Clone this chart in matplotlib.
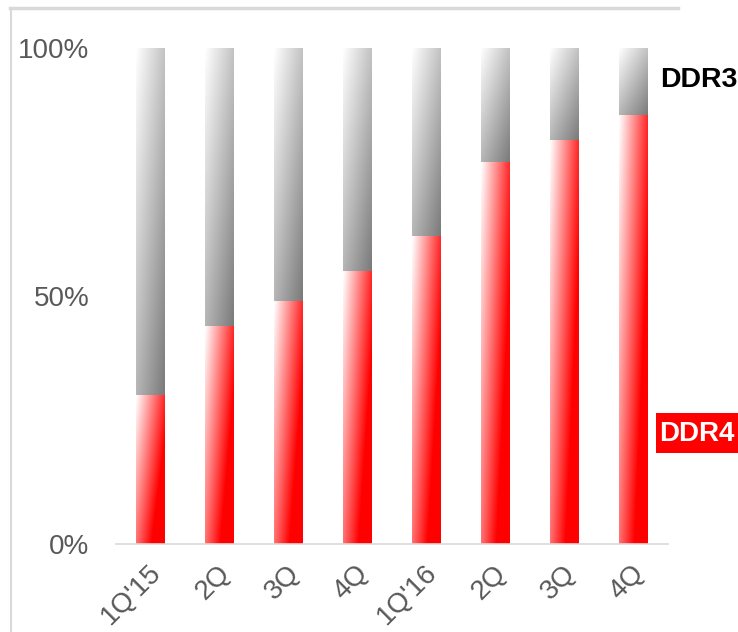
import numpy as np
import matplotlib
matplotlib.use('Agg')
import matplotlib.pyplot as plt
import matplotlib.transforms as mtransforms
from matplotlib.colors import LinearSegmentedColormap
from matplotlib.lines import Line2D
from matplotlib.patches import Rectangle

plt.rcParams['font.family'] = ['Liberation Sans', 'DejaVu Sans']

# data (share of DRAM shipments, %)
quarters = ["1Q'15", "2Q", "3Q", "4Q", "1Q'16", "2Q", "3Q", "4Q"]
ddr4 = [30, 44, 49, 55, 62, 77, 81.5, 86.5]
ddr3 = [100 - v for v in ddr4]

gray_txt = '#595959'
line_col = '#d9d9d9'

red_cmap = LinearSegmentedColormap.from_list('r', [(0, '#ffffff'), (0.72, '#ff0000'), (1, '#ff0000')])
gray_cmap = LinearSegmentedColormap.from_list('g', [(0, '#ffffff'), (1, '#7a7a7a')])


def grad_fill(ax, bar, cmap, wu, wv):
    x, y = bar.get_x(), bar.get_y()
    w, h = bar.get_width(), bar.get_height()
    U, V = np.meshgrid(np.linspace(0, 1, 64), np.linspace(0, 1, 256))
    t = wu * U + wv * V
    im = ax.imshow(t, cmap=cmap, vmin=0, vmax=1, extent=(x, x + w, y, y + h),
                   aspect='auto', origin='upper', zorder=2, interpolation='bilinear')
    im.set_clip_path(bar)


fig = plt.figure(figsize=(7.38, 6.32), dpi=100)
ax = fig.add_axes([116 / 738, 88 / 632, 552 / 738, 496 / 632])

xpos = np.arange(len(quarters))
width = 0.41
b4 = ax.bar(xpos, ddr4, width, facecolor='none', edgecolor='none')
b3 = ax.bar(xpos, ddr3, width, bottom=ddr4, facecolor='none', edgecolor='none')
for bar in b4:
    grad_fill(ax, bar, red_cmap, 0.6, 0.4)
for bar in b3:
    grad_fill(ax, bar, gray_cmap, 0.45, 0.55)

ax.set_xlim(-0.5, len(quarters) - 0.5)
ax.set_ylim(0, 100)
ax.set_aspect('auto')

for s in ['top', 'right', 'left']:
    ax.spines[s].set_visible(False)
ax.spines['bottom'].set_color(line_col)
ax.spines['bottom'].set_linewidth(1.2)

ax.set_yticks([0, 50, 100])
ax.set_yticklabels(['0%', '50%', '100%'])
ax.tick_params(axis='y', length=0, pad=19, labelsize=20, labelcolor=gray_txt)
ax.set_xticks(xpos)
ax.set_xticklabels(quarters, rotation=45, ha='right', va='center', rotation_mode='anchor')
ax.tick_params(axis='x', length=0, pad=18, labelsize=20, labelcolor=gray_txt)
shift = mtransforms.ScaledTranslation(7 / 100, 0, fig.dpi_scale_trans)
for lab in ax.get_xticklabels():
    lab.set_transform(lab.get_transform() + shift)

# series labels on the right
fig.text(660 / 738, 1 - 80 / 632, 'DDR3', fontsize=20.5, fontweight='bold', color='black',
         ha='left', va='center')
fig.add_artist(Rectangle((656 / 738, 1 - 453 / 632), 90 / 738, 40 / 632,
                         transform=fig.transFigure, facecolor='#ff0000', edgecolor='none'))
fig.text(659 / 738, 1 - 434 / 632, 'DDR4', fontsize=20, fontweight='bold', color='white',
         ha='left', va='center', zorder=5)

# light frame lines at top and left
fig.add_artist(Line2D([10 / 738, 678 / 738], [1 - 8 / 632, 1 - 8 / 632], color=line_col, lw=2.5))
fig.add_artist(Line2D([10.5 / 738, 10.5 / 738], [0, 1 - 8 / 632], color=line_col, lw=1.5))

fig.savefig('out.png', dpi=100)
